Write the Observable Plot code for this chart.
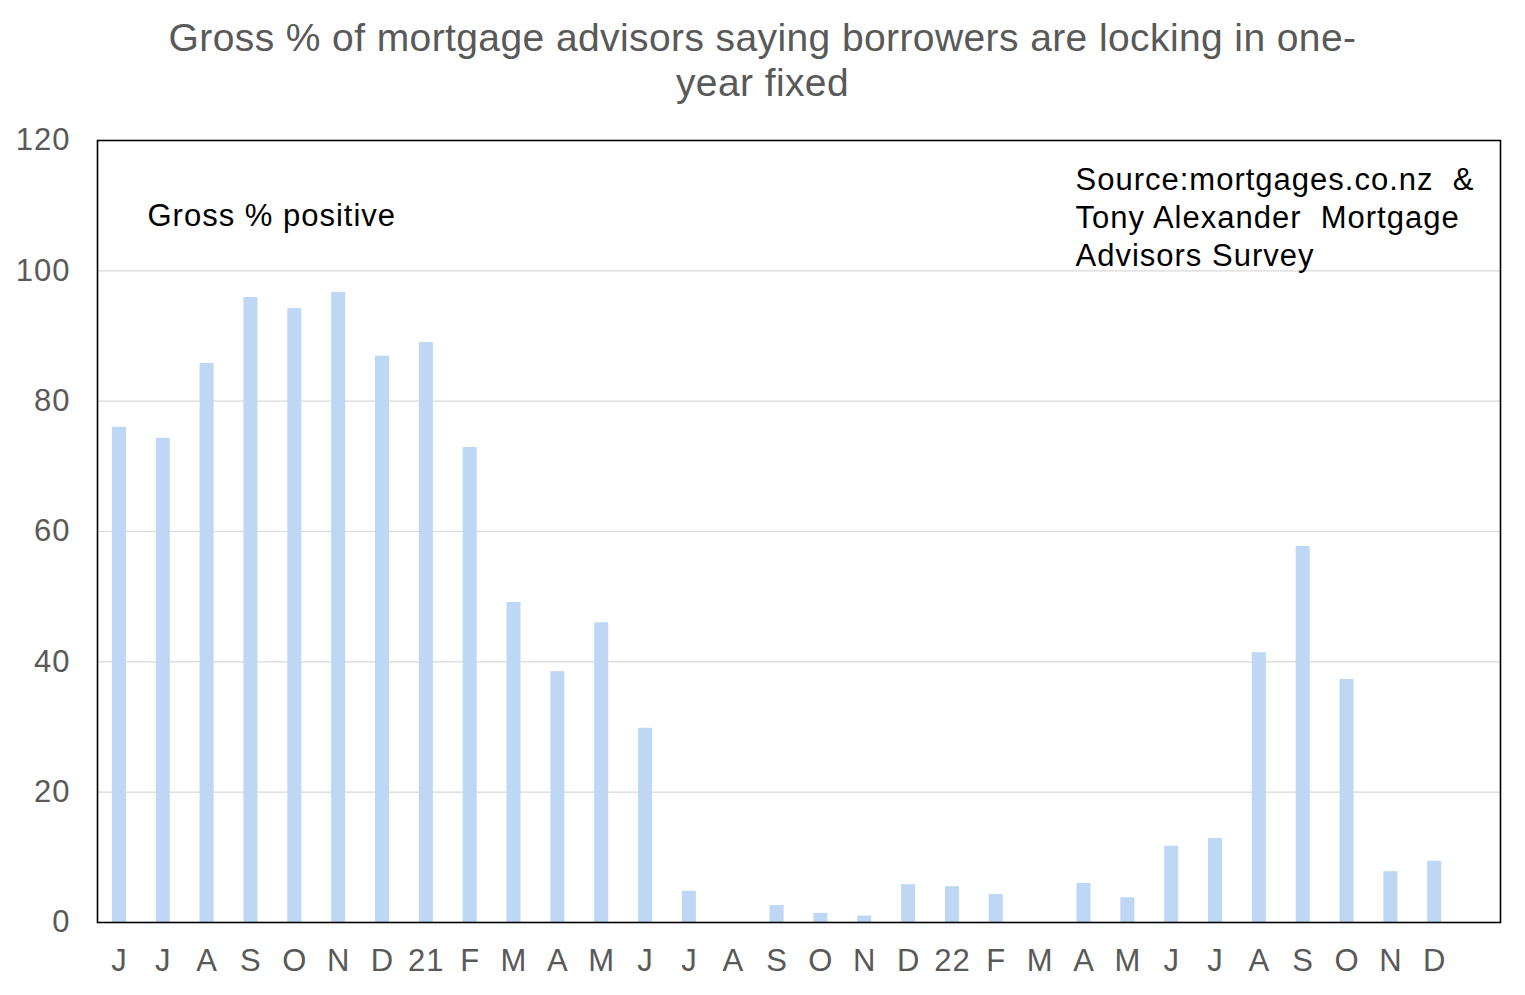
<!DOCTYPE html>
<html>
<head>
<meta charset="utf-8">
<script src="https://cdn.jsdelivr.net/npm/d3@7"></script>
<script src="https://cdn.jsdelivr.net/npm/@observablehq/plot@0.6"></script>
<style>
  body { margin: 0; background: #fff; }
  #wrap { position: relative; width: 1525px; height: 995px; }
  #title { position: absolute; left: 0; top: 15px; width: 1525px; text-align: center;
    font-family: "Liberation Sans", Arial, sans-serif; font-size: 39px; letter-spacing: 0.4px; line-height: 45px; color: #595959; }
  #chart { position: absolute; left: 0; top: 0; }
  #chart svg text { letter-spacing: 1px; }
</style>
</head>
<body>
<div id="wrap">
  <div id="chart"></div>
  <div id="title">Gross % of mortgage advisors saying borrowers are locking in one-<br>year fixed</div>
</div>
<script>
const monthLabels = ["J","J","A","S","O","N","D","21","F","M","A","M","J","J","A","S","O","N","D","22","F","M","A","M","J","J","A","S","O","N","D",""];
const grossPositive = [76, 74.3, 85.8, 95.9, 94.2, 96.7, 86.9, 89.0, 72.9, 49.1, 38.5, 46.0, 29.8, 4.8, 0, 2.6, 1.4, 1.0, 5.8, 5.5, 4.3, 0, 6.0, 3.8, 11.7, 12.9, 41.4, 57.7, 37.3, 7.8, 9.4, null];
const yTicks = [0, 20, 40, 60, 80, 100, 120];
const gridTicks = [20, 40, 60, 80, 100];

const data = monthLabels.map((m, i) => ({i, label: m, value: grossPositive[i]}));
const domain = data.map(d => d.i);

const chart = Plot.plot({
  width: 1525,
  height: 995,
  marginLeft: 97,
  marginRight: 25,
  marginTop: 140,
  marginBottom: 73,
  style: {fontFamily: "'Liberation Sans', Arial, sans-serif", background: "#fff"},
  x: {domain, paddingInner: 0.68, paddingOuter: 0.34, round: false, label: null, tickFormat: i => monthLabels[i]},
  y: {domain: [0, 120], label: null},
  marks: [
    Plot.gridY(gridTicks, {stroke: "#d9d9d9", strokeOpacity: 1, strokeWidth: 1.2}),
    Plot.barY(data.filter(d => d.value != null && d.value > 0), {x: "i", y: "value", fill: "#bdd7f5"}),
    Plot.axisY(yTicks, {tickSize: 0, tickPadding: 27, fontSize: 31, fill: "#595959", label: null}),
    Plot.axisX(domain, {tickSize: 0, tickPadding: 26, fontSize: 31, fill: "#595959", label: null, tickFormat: i => monthLabels[i]}),
    Plot.frame({stroke: "#000", strokeWidth: 1.6}),
    Plot.text(["Gross % positive"], {frameAnchor: "top-left", dx: 50, dy: 63, fontSize: 31, fill: "#000", textAnchor: "start"}),
    Plot.text(["Source:mortgages.co.nz  &\nTony Alexander  Mortgage\nAdvisors Survey"], {frameAnchor: "top-left", dx: 978, dy: 22, fontSize: 31, lineHeight: 1.23, fill: "#000", textAnchor: "start", lineAnchor: "top"})
  ]
});
document.getElementById("chart").appendChild(chart);
</script>
</body>
</html>
